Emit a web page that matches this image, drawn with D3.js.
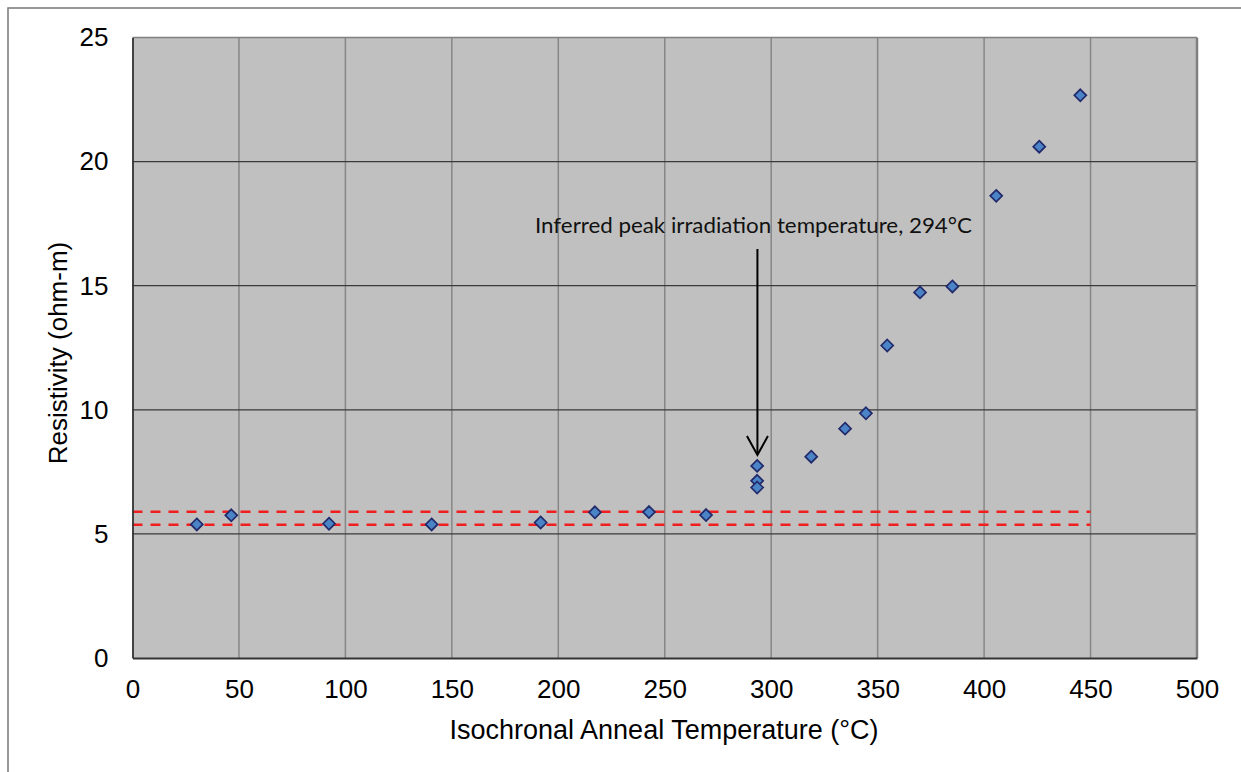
<!DOCTYPE html>
<html>
<head>
<meta charset="utf-8">
<script src="https://cdn.jsdelivr.net/npm/d3@7"></script>
<style>
  body { margin: 0; background: #fff; }
  svg { display: block; }
</style>
</head>
<body>
<script>
// anneal temperature (C) and resistivity (ohm-m)
var temps = [30.2, 46.4, 92.3, 140.5, 191.7, 217.2, 242.6, 269.4, 293.4, 293.4, 293.4,
             318.8, 334.7, 344.5, 354.5, 369.9, 385.1, 405.7, 425.9, 445.2];
var resist = [5.38, 5.75, 5.41, 5.38, 5.46, 5.87, 5.88, 5.76, 7.74, 7.14, 6.87,
              8.11, 9.24, 9.86, 12.59, 14.73, 14.97, 18.62, 20.60, 22.67];
// red dashed band (baseline scatter)
var bandLevels = [5.89, 5.37];
var bandRange = [0, 450];
var xTicks = [0, 50, 100, 150, 200, 250, 300, 350, 400, 450, 500];
var yTicks = [0, 5, 10, 15, 20, 25];
var peakTemp = 294;
var peakLabel = "Inferred peak irradiation temperature, 294°C";

var width = 1241, height = 772;
var plotL = 132.5, plotR = 1197, plotT = 37.5, plotB = 658;

var svg = d3.select("body").append("svg")
    .attr("width", width)
    .attr("height", height);

// outer chart frame
svg.append("rect")
    .attr("x", 8).attr("y", 8)
    .attr("width", width + 20).attr("height", height + 20)
    .attr("fill", "none")
    .attr("stroke", "#777")
    .attr("stroke-width", 1.5);

var x = d3.scaleLinear().domain([0, 500]).range([plotL, plotR]);
var y = d3.scaleLinear().domain([0, 25]).range([plotB, plotT]);

// plot area
svg.append("rect")
    .attr("x", plotL).attr("y", plotT)
    .attr("width", plotR - plotL).attr("height", plotB - plotT)
    .attr("fill", "#c0c0c0");

// vertical gridlines (lighter)
svg.selectAll(".vgrid")
    .data(xTicks.slice(1, -1))
    .enter().append("line")
    .attr("x1", d => x(d)).attr("x2", d => x(d))
    .attr("y1", plotT).attr("y2", plotB)
    .attr("stroke", "#868686")
    .attr("stroke-width", 1.5);

// horizontal gridlines (darker)
svg.selectAll(".hgrid")
    .data(yTicks.slice(1, -1))
    .enter().append("line")
    .attr("x1", plotL).attr("x2", plotR)
    .attr("y1", d => y(d)).attr("y2", d => y(d))
    .attr("stroke", "#3a3a3a")
    .attr("stroke-width", 1.2);

// plot border: top/right gray, left/bottom dark
svg.append("line").attr("x1", plotL).attr("x2", plotR).attr("y1", plotT).attr("y2", plotT)
    .attr("stroke", "#808080").attr("stroke-width", 1.5);
svg.append("line").attr("x1", plotR).attr("x2", plotR).attr("y1", plotT).attr("y2", plotB)
    .attr("stroke", "#808080").attr("stroke-width", 2.5);

// red dashed lines
svg.selectAll(".band")
    .data(bandLevels)
    .enter().append("line")
    .attr("x1", x(bandRange[0])).attr("x2", x(bandRange[1]))
    .attr("y1", d => y(d)).attr("y2", d => y(d))
    .attr("stroke", "#f01e1e")
    .attr("stroke-width", 2.5)
    .attr("stroke-dasharray", "10,8");

// axes
var xAxis = d3.axisBottom(x).tickValues(xTicks).tickSize(0).tickPadding(22);
var yAxis = d3.axisLeft(y).tickValues(yTicks).tickSize(0).tickPadding(24);

var gx = svg.append("g").attr("transform", "translate(0," + plotB + ")").call(xAxis);
var gy = svg.append("g").attr("transform", "translate(" + plotL + ",0)").call(yAxis);
[gx, gy].forEach(function(g) {
  g.select(".domain").attr("stroke", "#333").attr("stroke-width", 1.8);
  g.selectAll("text")
    .attr("font-family", "'Liberation Sans', Arial, sans-serif")
    .attr("font-size", 26)
    .attr("fill", "#000");
});

// axis titles
svg.append("text")
    .attr("x", 664)
    .attr("y", 739)
    .attr("text-anchor", "middle")
    .attr("font-family", "'Liberation Sans', Arial, sans-serif")
    .attr("font-size", 27)
    .text("Isochronal Anneal Temperature (°C)");

svg.append("text")
    .attr("transform", "translate(67," + 353 + ") rotate(-90)")
    .attr("text-anchor", "middle")
    .attr("font-family", "'Liberation Sans', Arial, sans-serif")
    .attr("font-size", 26)
    .text("Resistivity (ohm-m)");

// annotation arrow
var ax = x(peakTemp) - 1;
svg.append("line")
    .attr("x1", ax).attr("x2", ax)
    .attr("y1", 249).attr("y2", 454)
    .attr("stroke", "#000").attr("stroke-width", 2);
svg.append("path")
    .attr("d", "M" + (ax - 10.5) + ",436 L" + ax + ",455 L" + (ax + 10.5) + ",436")
    .attr("fill", "none")
    .attr("stroke", "#000").attr("stroke-width", 2);

svg.append("text")
    .attr("x", 753.5)
    .attr("y", 233)
    .attr("text-anchor", "middle")
    .attr("font-family", "Lato, 'Open Sans', sans-serif")
    .attr("font-size", 22)
    .attr("fill", "#111")
    .attr("textLength", 437)
    .attr("lengthAdjust", "spacingAndGlyphs")
    .text(peakLabel);

// data markers (diamonds)
var diamond = d3.symbol().type(d3.symbolDiamond2).size(92);
svg.selectAll(".pt")
    .data(temps)
    .enter().append("path")
    .attr("d", diamond)
    .attr("transform", (d, i) => "translate(" + x(d) + "," + y(resist[i]) + ")")
    .attr("fill", "#4a84c6")
    .attr("stroke", "#22296a")
    .attr("stroke-width", 1.7);
</script>
</body>
</html>
